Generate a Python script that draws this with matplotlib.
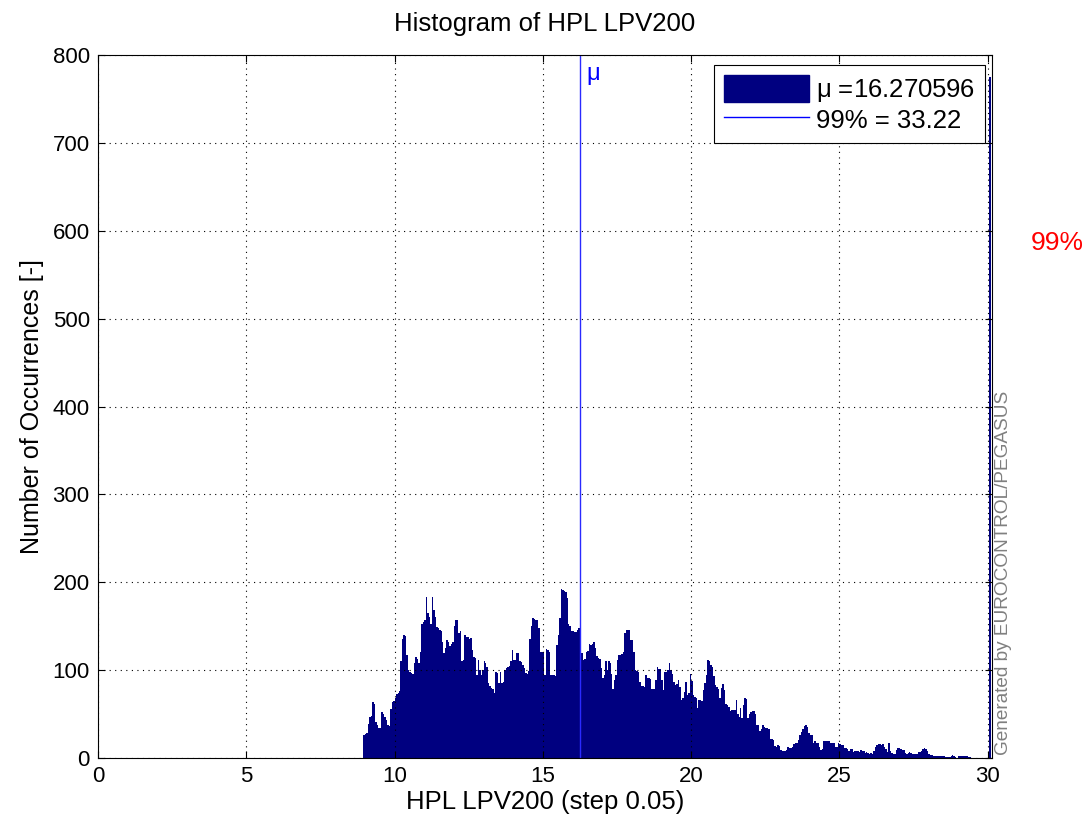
import numpy as np
import matplotlib
matplotlib.use("Agg")
import matplotlib.pyplot as plt
from matplotlib.patches import Patch
from matplotlib.lines import Line2D

plt.rcParams['font.family'] = ['Liberation Sans', 'DejaVu Sans']
plt.rcParams['mathtext.fontset'] = 'custom'
plt.rcParams['mathtext.rm'] = 'Liberation Sans'
plt.rcParams['mathtext.it'] = 'Liberation Sans'

# ---- data ----
bin_step = 0.05
first_bin = 8.95
counts = [
    26, 27, 28, 39, 47, 48, 64, 62, 41, 38, 34, 34, 52, 50, 47, 43, 38, 37, 56, 64,
    65, 68, 73, 74, 76, 110, 136, 140, 139, 117, 100, 98, 97, 96, 108, 115, 113, 108, 121, 153,
    155, 157, 183, 165, 160, 153, 183, 168, 160, 149, 148, 146, 144, 132, 119, 125, 134, 132,
    127, 130, 132, 150, 157, 157, 142, 144, 110, 112, 140, 138, 138, 136, 137, 123, 115, 114, 94, 111,
    100, 94, 100, 110, 108, 104, 85, 82, 80, 79, 74, 98, 97, 85, 98, 85, 86, 100, 102, 104,
    105, 110, 123, 111, 112, 120, 119, 110, 109, 106, 103, 97, 96, 99, 136, 150, 159, 158, 157, 157,
    148,
    121, 121, 119, 94, 124, 123, 121, 94, 94, 94, 93, 129, 140, 159, 192, 191, 190, 189, 182, 153,
    150, 144, 144, 143, 143, 146, 148, 148, 120, 111, 113, 121, 122, 130, 129, 130, 132, 125, 116, 114,
    113, 102, 91, 95, 110, 100, 110, 108, 96, 79, 89, 95, 111, 117, 117, 118, 121, 142, 146, 146,
    146,
    134, 134, 121, 100, 99, 98, 87, 82, 82, 81, 94, 91, 91, 90, 79, 78, 78, 89, 104, 101,
    101, 89, 77, 98, 98, 100, 108, 100, 96, 87, 83, 84, 89, 81, 66, 68, 75, 87, 72, 74,
    96, 88, 72, 70, 68, 57, 66, 66, 65, 77, 85, 94, 111, 110, 106, 104, 93, 83, 81, 79,
    68, 80, 84, 77, 62, 60, 58, 54, 55, 55, 55, 66, 50, 47, 57, 45, 60, 68, 67, 45,
    50, 52, 53, 53, 50, 38, 38, 31, 33, 38, 35, 34, 34, 33, 22, 22, 20, 14, 12, 15,
    14, 9, 8, 8, 8, 9, 13, 11, 11, 12, 16, 17, 17, 20, 26, 30, 33, 36, 38, 35,
    28,
    26, 26, 17, 19, 17, 17, 13, 9, 10, 19, 19, 19, 19, 19, 17, 17, 17, 13, 13, 17,
    16, 15, 15, 11, 11, 10, 8, 10, 10, 7, 8, 8, 8, 7, 9, 8, 8, 6, 7, 6,
    5, 6, 5, 8, 13, 15, 16, 16, 15, 16, 13, 10, 7, 17, 8, 6, 5, 5, 9, 11,
    11, 10, 9, 9, 6, 5, 6, 7, 6, 5, 5, 5, 5, 7, 7, 8, 10, 11, 10, 8,
    5, 4, 3, 2, 2, 2, 2, 2, 2, 2, 2, 1, 1, 1, 1, 2, 3, 2, 1, 0,
    2, 2, 2, 2, 2, 2, 2, 1, 1,
]
overflow_x = 30.05
overflow_width = 0.06
overflow_count = 775
mu = 16.270596
p99 = 33.22
title = "Histogram of HPL LPV200"
xlabel = "HPL LPV200 (step 0.05)"
ylabel = "Number of Occurrences [-]"
xticks = [0, 5, 10, 15, 20, 25, 30]
yticks = [0, 100, 200, 300, 400, 500, 600, 700, 800]

navy = '#000080'

fig = plt.figure(figsize=(10.88, 8.31), dpi=100)
ax = fig.add_axes([0.0901, 0.0878, 0.9118 - 0.0901, 0.9338 - 0.0878])

edges = first_bin + bin_step * np.arange(len(counts) + 1)
ax.stairs(counts, edges, fill=True, color=navy, linewidth=0)
ax.stairs([overflow_count], [overflow_x, overflow_x + overflow_width], fill=True,
          color=navy, linewidth=0)

ax.axvline(mu, color='#2a2aff', linewidth=1.0)
ax.axvline(p99, color='blue', linewidth=1.0)
ax.text(mu + 0.2, 789, r'$\mu$', color='blue', fontsize=17, ha='left', va='top')
ax.text(32.35, 586, '99%', color='red', fontsize=19, ha='center', va='center', clip_on=False)

ax.set_xlim(0, 30.15)
ax.set_ylim(0, 800)
ax.set_xticks(xticks)
ax.set_yticks(yticks)
ax.tick_params(direction='in', labelsize=16, top=True, right=True, length=5, pad=6)
ax.grid(True, color='black', linestyle=(0, (1, 4)), linewidth=0.8)
ax.set_axisbelow(False)
for s in ax.spines.values():
    s.set_linewidth(0.8)

ax.set_title(title, fontsize=18.5, pad=17)
ax.set_xlabel(xlabel, fontsize=18.5, labelpad=2)
ax.set_ylabel(ylabel, fontsize=18, labelpad=6)

handles = [Patch(facecolor=navy, edgecolor=navy),
           Line2D([0], [0], color='blue', linewidth=1.0)]
labels = [r'$\mu$ =16.270596', '99% = 33.22']
leg = ax.legend(handles, labels, loc='upper right', bbox_to_anchor=(0.992, 0.986),
                borderaxespad=0, fontsize=18.5, handlelength=3.3, handleheight=1.24,
                fancybox=False, framealpha=1, edgecolor='black', borderpad=0.4,
                labelspacing=0.05, handletextpad=0.25)
leg.get_frame().set_linewidth(0.8)

fig.text(1003 / 1088, 1 - 755 / 831, 'Generated by EUROCONTROL/PEGASUS', rotation=90,
         color='gray', fontsize=13.7, ha='center', va='bottom')

fig.savefig('out.png', dpi=100)
